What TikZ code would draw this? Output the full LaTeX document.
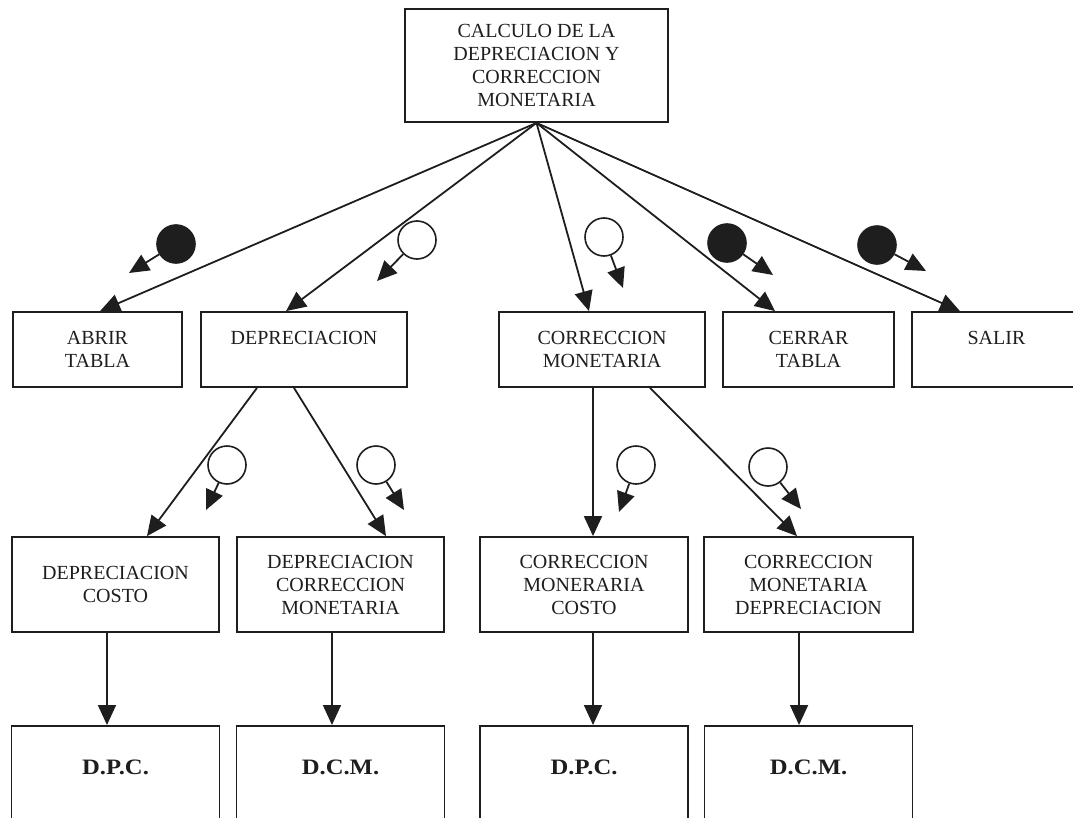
\documentclass[tikz,border=0pt]{standalone}
\usepackage{fontspec}
\setmainfont{Liberation Serif}
\usetikzlibrary{arrows.meta}
\definecolor{ink}{RGB}{30,30,30}
\begin{document}
\begin{tikzpicture}[x=0.75pt,y=-0.75pt,
  every node/.style={font=\fontsize{15}{17.25}\selectfont, text=ink},
  box/.style={draw=ink, line width=1.35pt, rectangle, align=center, inner sep=0pt},
  leaf/.style={draw=ink, line width=1.35pt, rectangle, inner sep=0pt, anchor=north,
    minimum width=156pt, text height=36.75pt, text depth=75pt,
    font=\fontsize{16.5}{18}\selectfont\bfseries},
  flagw/.style={circle, draw=ink, line width=1.2pt, minimum size=28.5pt, inner sep=0pt, fill=white},
  flagb/.style={circle, draw=ink, line width=1.2pt, minimum size=28.5pt, inner sep=0pt, fill=ink},
  arr/.style={draw=ink, line width=1.35pt, -{Triangle[length=15pt,width=13.5pt]}},
]
\useasboundingbox (0,0) rectangle (1073,817);
\clip (0,0) rectangle (1073,817);

% top
\node[box, minimum width=197.25pt, minimum height=84.75pt] (top) at (536.5,65.5)
  {CALCULO DE LA\\DEPRECIACION Y\\CORRECCION\\MONETARIA};

% row 1
\node[box, minimum width=126.75pt, minimum height=56.25pt] (abrir) at (97.5,349.5) {ABRIR\\TABLA};
\node[box, minimum width=154.5pt, minimum height=56.25pt] (dep) at (304,349.5) {DEPRECIACION\\\phantom{D}};
\node[box, minimum width=154.5pt, minimum height=56.25pt] (corr) at (602,349.5) {CORRECCION\\MONETARIA};
\node[box, minimum width=128.25pt, minimum height=56.25pt] (cerrar) at (808.5,349.5) {CERRAR\\TABLA};
\node[box, minimum width=126.75pt, minimum height=56.25pt] (salir) at (996.5,349.5) {SALIR\\\phantom{S}};

% row 2
\node[box, minimum width=155.25pt, minimum height=71.25pt] (dcosto) at (115.5,584.5) {DEPRECIACION\\COSTO};
\node[box, minimum width=155.25pt, minimum height=71.25pt] (dcm) at (340.5,584.5) {DEPRECIACION\\CORRECCION\\MONETARIA};
\node[box, minimum width=156pt, minimum height=71.25pt] (cmc) at (584,584.5) {CORRECCION\\MONERARIA\\COSTO};
\node[box, minimum width=156.75pt, minimum height=71.25pt] (cmd) at (808.5,584.5) {CORRECCION\\MONETARIA\\DEPRECIACION};

% row 3
\node[leaf] (dpc1) at (115.5,725) {\scalebox{1.12}[1]{D.P.C.}};
\node[leaf] (dcm1) at (340.5,725) {\scalebox{1.12}[1]{D.C.M.}};
\node[leaf] (dpc2) at (584,725) {\scalebox{1.12}[1]{D.P.C.}};
\node[leaf] (dcm2) at (808.5,725) {\scalebox{1.12}[1]{D.C.M.}};

% connectors top -> row 1
\draw[arr] (top.south) -- ([xshift=1.9pt]abrir.north);
\draw[arr] (top.south) -- ([xshift=-13.5pt]dep.north);
\draw[arr] (top.south) -- ([xshift=-9.75pt]corr.north);
\draw[arr] (top.south) -- ([xshift=-25.1pt]cerrar.north);
\draw[arr] (top.south) -- ([xshift=-27.4pt]salir.north);

% row 1 -> row 2
\draw[arr] ([xshift=-35.25pt]dep.south) -- ([xshift=23.6pt]dcosto.north);
\draw[arr] ([xshift=-7.5pt]dep.south) -- ([xshift=34.1pt]dcm.north);
\draw[arr] ([xshift=-6.75pt]corr.south) -- ([xshift=6.75pt]cmc.north);
\draw[arr] ([xshift=36pt]corr.south) -- ([xshift=-8.6pt]cmd.north);

% row 2 -> row 3
\draw[arr] ([xshift=-6.4pt]dcosto.south) -- ([xshift=-6.4pt]dpc1.north);
\draw[arr] ([xshift=-6.4pt]dcm.south) -- ([xshift=-6.4pt]dcm1.north);
\draw[arr] ([xshift=6.75pt]cmc.south) -- ([xshift=6.75pt]dpc2.north);
\draw[arr] ([xshift=-7.1pt]cmd.south) -- ([xshift=-7.1pt]dcm2.north);

% couples (flags)
\node[flagb] (f1) at (176,244) {};
\coordinate (t1) at (129,273);
\node[flagw] (f2) at (417,240) {};
\coordinate (t2) at (377,281);
\node[flagw] (f3) at (604,237) {};
\coordinate (t3) at (623,288);
\node[flagb] (f4) at (727,243) {};
\coordinate (t4) at (773,275);
\node[flagb] (f5) at (877,245) {};
\coordinate (t5) at (926,271);
\node[flagw] (f6) at (227,465) {};
\coordinate (t6) at (206,510);
\node[flagw] (f7) at (376,465) {};
\coordinate (t7) at (404,510);
\node[flagw] (f8) at (636,465) {};
\coordinate (t8) at (619,512);
\node[flagw] (f9) at (768,467) {};
\coordinate (t9) at (801,509);
\foreach \i in {1,...,9} {\draw[arr] (f\i) -- (t\i);}
\end{tikzpicture}
\end{document}
